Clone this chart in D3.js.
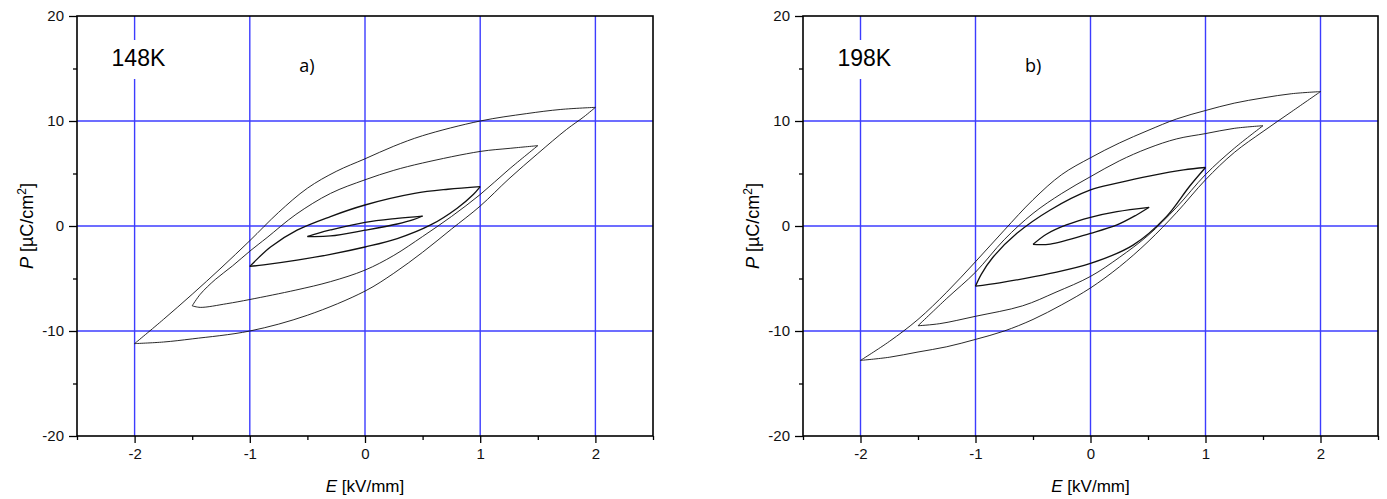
<!DOCTYPE html>
<html>
<head>
<meta charset="utf-8">
<script src="https://cdn.jsdelivr.net/npm/d3@7"></script>
<style>
  body { margin: 0; background: #fff; }
  svg { display: block; font-family: "Liberation Sans", Arial, sans-serif; }
</style>
</head>
<body>
<svg width="1387" height="499"></svg>
<script>
// P-E hysteresis loops, [E (kV/mm), P (uC/cm2)]
// "up" branches run from +Emax down to -Emax, "lo" from -Emax up to +Emax

// 148 K
var up148_20 = [[2.0,11.3],[1.7,11.1],[1.4,10.7],[1.0,10.0],[0.5,8.6],[0.25,7.6],[0,6.4],[-0.25,5.2],[-0.5,3.6],[-0.75,1.3],[-1.0,-1.4],[-1.25,-4.0],[-1.5,-6.5],[-1.75,-8.9],[-2.0,-11.2]];
var lo148_20 = [[-2.0,-11.2],[-1.75,-11.05],[-1.5,-10.75],[-1.0,-10.0],[-0.5,-8.5],[0,-6.2],[0.25,-4.5],[0.5,-2.5],[0.75,-0.3],[1.0,1.9],[1.25,4.5],[1.5,6.9],[1.75,9.2],[1.9,10.4],[2.0,11.3]];
var up148_15 = [[1.5,7.65],[1.26,7.4],[1.0,7.1],[0.5,6.0],[0.25,5.3],[0,4.4],[-0.3,3.1],[-0.6,1.1],[-0.85,-1.1],[-1.0,-2.4],[-1.15,-3.8],[-1.3,-5.1],[-1.43,-6.5],[-1.5,-7.6]];
var lo148_15 = [[-1.5,-7.6],[-1.43,-7.75],[-1.2,-7.4],[-1.0,-7.0],[-0.6,-6.1],[-0.3,-5.3],[0,-4.2],[0.25,-2.8],[0.5,-1.0],[0.75,0.9],[1.0,3.0],[1.25,5.4],[1.5,7.65]];
var up148_10 = [[1.0,3.75],[0.72,3.5],[0.43,3.1],[0,2.0],[-0.3,0.9],[-0.59,-0.4],[-0.82,-2.0],[-0.95,-3.3],[-1.0,-3.85]];
var lo148_10 = [[-1.0,-3.85],[-0.88,-3.7],[-0.59,-3.25],[-0.3,-2.7],[0,-2.0],[0.28,-1.2],[0.57,0.1],[0.8,1.7],[0.94,3.0],[1.0,3.75]];
var up148_05 = [[0.5,0.95],[0.28,0.73],[0,0.35],[-0.3,-0.38],[-0.41,-0.7],[-0.5,-1.0]];
var lo148_05 = [[-0.5,-1.0],[-0.3,-0.95],[0,-0.4],[0.28,0.19],[0.42,0.6],[0.5,0.95]];

// 198 K
var up198_20 = [[2.0,12.8],[1.75,12.6],[1.5,12.2],[1.25,11.7],[1.0,11.0],[0.75,10.2],[0.5,9.1],[0.25,7.9],[0,6.5],[-0.25,4.9],[-0.5,2.5],[-0.75,-0.4],[-1.0,-3.4],[-1.25,-6.3],[-1.5,-8.9],[-1.75,-11.0],[-2.0,-12.8]];
var lo198_20 = [[-2.0,-12.8],[-1.75,-12.5],[-1.5,-12.0],[-1.25,-11.5],[-1.0,-10.8],[-0.75,-10.0],[-0.5,-8.9],[-0.25,-7.5],[0,-5.9],[0.25,-3.9],[0.5,-1.5],[0.75,1.3],[1.0,4.4],[1.25,7.0],[1.5,9.0],[1.75,10.9],[2.0,12.8]];
var up198_15 = [[1.5,9.55],[1.25,9.3],[1.0,8.8],[0.75,8.3],[0.5,7.4],[0.25,6.2],[0,4.7],[-0.25,3.1],[-0.5,1.2],[-0.75,-1.3],[-1.0,-4.4],[-1.25,-6.9],[-1.5,-9.5]];
var lo198_15 = [[-1.5,-9.5],[-1.31,-9.3],[-1.0,-8.6],[-0.59,-7.6],[-0.3,-6.3],[0,-4.8],[0.25,-3.0],[0.5,-0.9],[0.75,1.8],[1.0,4.9],[1.25,7.4],[1.5,9.55]];
var up198_10 = [[1.0,5.57],[0.81,5.35],[0.52,4.78],[0.23,4.08],[0,3.44],[-0.35,1.53],[-0.64,-0.7],[-0.85,-3.0],[-0.95,-4.6],[-1.0,-5.73]];
var lo198_10 = [[-1.0,-5.73],[-0.79,-5.41],[-0.35,-4.52],[0,-3.57],[0.37,-1.82],[0.66,0.89],[0.86,3.76],[1.0,5.57]];
var up198_05 = [[0.51,1.78],[0.23,1.37],[0,0.83],[-0.21,0.1],[-0.38,-0.76],[-0.5,-1.75]];
var lo198_05 = [[-0.5,-1.75],[-0.35,-1.72],[0,-0.7],[0.23,0.1],[0.4,1.05],[0.51,1.78]];

var xTicks = [-2, -1, 0, 1, 2],
    xMinor = [-2.5, -1.5, -0.5, 0.5, 1.5, 2.5],
    yTicks = [-20, -10, 0, 10, 20],
    yMinor = [-15, -5, 5, 15],
    xGrid = [-2, -1, 0, 1, 2],
    yGrid = [-10, 0, 10];

var panels = [
  { left: 77,  right: 653,  temp: "148K", tag: "a)",
    branches: [up148_20, lo148_20, up148_15, lo148_15, up148_10, lo148_10, up148_05, lo148_05] },
  { left: 803, right: 1378, temp: "198K", tag: "b)",
    branches: [up198_20, lo198_20, up198_15, lo198_15, up198_10, lo198_10, up198_05, lo198_05] }
];

var plotTop = 16, plotBottom = 436;
var svg = d3.select("svg");
var fmt = function(d) { return String(d); };

panels.forEach(function(p) {
  var x = d3.scaleLinear().domain([-2.5, 2.5]).range([p.left, p.right]);
  var y = d3.scaleLinear().domain([-20, 20]).range([plotBottom, plotTop]);
  var g = svg.append("g");

  // grid
  g.selectAll(".gx").data(xGrid).enter().append("line")
      .attr("x1", function(d) { return x(d); }).attr("x2", function(d) { return x(d); })
      .attr("y1", plotTop).attr("y2", plotBottom)
      .attr("stroke", "#3c3cff").attr("stroke-width", 1.4);
  g.selectAll(".gy").data(yGrid).enter().append("line")
      .attr("x1", p.left).attr("x2", p.right)
      .attr("y1", function(d) { return y(d); }).attr("y2", function(d) { return y(d); })
      .attr("stroke", "#3c3cff").attr("stroke-width", 1.4);

  // temperature label on white box
  var tx = x(-2.2), ty = y(16);
  g.append("rect").attr("x", tx - 4).attr("y", ty - 18).attr("width", 64).attr("height", 39).attr("fill", "#fff");
  g.append("text").attr("x", tx).attr("y", ty + 8)
      .style("font-size", "23px").text(p.temp);
  g.append("text").attr("x", x(-0.57)).attr("y", y(14.7))
      .style("font-family", "'Open Sans', 'Noto Sans', sans-serif")
      .style("font-size", "18px").text(p.tag);

  // loops
  var line = d3.line()
      .x(function(d) { return x(d[0]); })
      .y(function(d) { return y(d[1]); })
      .curve(d3.curveCatmullRom.alpha(0.5));
  g.selectAll(".loop").data(p.branches).enter().append("path")
      .attr("d", line)
      .attr("fill", "none")
      .attr("stroke", "#111")
      .attr("stroke-width", function(d, i) { return i >= 4 ? 1.3 : 0.9; })
      .attr("stroke-linejoin", "round");

  // axes
  g.append("g").attr("transform", "translate(0," + plotBottom + ")")
      .call(d3.axisBottom(x).tickValues(xTicks).tickFormat(fmt).tickSize(7).tickPadding(5));
  g.append("g").attr("transform", "translate(0," + plotBottom + ")")
      .call(d3.axisBottom(x).tickValues(xMinor).tickFormat("").tickSize(4));
  g.append("g").attr("transform", "translate(" + p.left + ",0)")
      .call(d3.axisLeft(y).tickValues(yTicks).tickFormat(fmt).tickSize(8).tickPadding(5));
  g.append("g").attr("transform", "translate(" + p.left + ",0)")
      .call(d3.axisLeft(y).tickValues(yMinor).tickFormat("").tickSize(4));
  g.selectAll(".domain").remove();
  g.selectAll(".tick line").attr("stroke", "#000").attr("stroke-width", 1.3);
  g.selectAll(".tick text").style("font-size", "15px").attr("fill", "#111")
      .style("font-family", "'Liberation Sans', Arial, sans-serif");

  // frame
  g.append("rect").attr("x", p.left).attr("y", plotTop)
      .attr("width", p.right - p.left).attr("height", plotBottom - plotTop)
      .attr("fill", "none").attr("stroke", "#000").attr("stroke-width", 1.6);

  // axis titles
  var xt = g.append("text").attr("x", (p.left + p.right) / 2).attr("y", 492)
      .attr("text-anchor", "middle").style("font-size", "17px");
  xt.append("tspan").style("font-style", "italic").text("E");
  xt.append("tspan").text(" [kV/mm]");

  var yt = g.append("text")
      .attr("transform", "translate(" + (p.left - 44) + "," + y(0) + ") rotate(-90)")
      .attr("text-anchor", "middle").style("font-size", "18px");
  yt.append("tspan").style("font-style", "italic").text("P");
  yt.append("tspan").text(" [\u00b5C/cm");
  yt.append("tspan").attr("dy", -7).style("font-size", "12px").text("2");
  yt.append("tspan").attr("dy", 7).text("]");
});
</script>
</body>
</html>
